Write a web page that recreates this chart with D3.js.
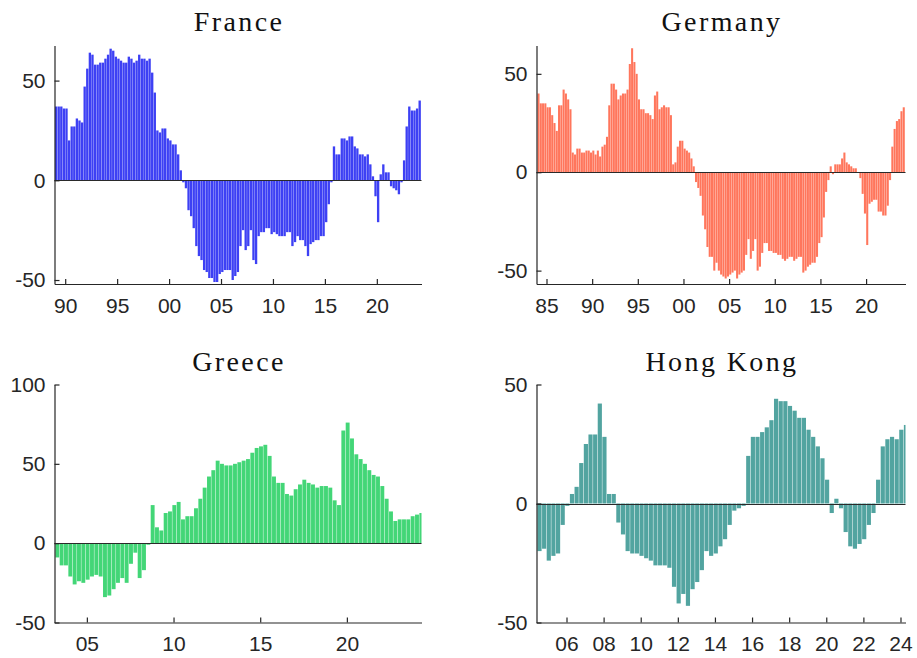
<!DOCTYPE html>
<html>
<head>
<meta charset="utf-8">
<script src="https://cdn.jsdelivr.net/npm/d3@7"></script>
<style>
  html, body { margin: 0; padding: 0; background: #ffffff; }
  svg { display: block; }
  .tick text { font-family: "Liberation Sans", Arial, Helvetica, sans-serif; }
</style>
</head>
<body>
<svg id="chart" width="917" height="658"></svg>
<script>
// ---- Data: quarterly readings (decimal-year start of the first quarter) ----
const franceStart = 1989.0;
const franceValues = [
  37, 37, 37, 36,   36, 20, 27, 27,   31, 30, 29, 47,   56, 64, 63, 58,
  58, 59, 59, 61,   63, 66, 65, 62,   61, 60, 59, 59,   62, 61, 59, 60,
  63, 61, 61, 60,   61, 54, 44, 25,   24, 26, 26, 21,   20, 18, 18, 13,
  5, -1, -4, -15,   -18, -24, -33, -38, -40, -45, -46, -49, -49, -51, -51, -47,
  -46, -45, -45, -45, -50, -48, -46, -33, -25, -35, -33, -25, -40, -42, -28, -26,
  -26, -24, -24, -27, -26, -27, -28, -28, -28, -26, -26, -33, -31, -28, -30, -30,
  -33, -38, -32, -31, -30, -30, -28, -28, -21, -12, -1, 17,  13, 13, 21, 21,
  20, 22, 22, 17,   16, 13, 13, 12,   13, 8, 2, -8,    -21, 3, 8, 4,
  4, -3, -4, -5,    -7, -1, 10, 27,   37, 35, 35, 36,   40
];

const germanyStart = 1984.0;
const germanyValues = [
  40, 35, 35, 35,   33, 33, 29, 25,   21, 34, 34, 42,   40, 37, 32, 10,
  9, 12, 12, 10,    10, 11, 11, 10,   11, 9, 11, 8,     13, 14, 18, 34,
  45, 45, 42, 37,   39, 40, 40, 42,   55, 63, 56, 50,   37, 32, 32, 30,
  30, 29, 27, 39,   41, 32, 33, 34,   33, 33, 29, 4,    5, 13, 16, 16,
  12, 11, 10, 7,    3, -5, -8, -12,   -22, -29, -38, -43, -43, -50, -46, -50,
  -52, -53, -54, -53, -52, -51, -50, -54, -52, -51, -50, -42, -34, -44, -40, -34,
  -50, -48, -41, -36, -36, -40, -40, -41, -41, -42, -42, -44, -45, -44, -43, -43,
  -45, -44, -43, -43, -51, -50, -48, -47, -46, -46, -43, -36, -33, -23, -10, -4,
  3, -1, 4, 4,      4, 7, 10, 5,      4, 3, 2, 2,       0, -3, -11, -21,
  -37, -16, -15, -14, -14, -20, -20, -22, -22, -17, -4, 13, 22, 26, 27, 31,
  33
];

const greeceStart = 2003.17;
const greeceValues = [
  -9, -14, -14, -21, -26, -24, -25, -23, -21, -20, -21, -34, -33, -29, -25, -22,
  -25, -13, -6, -22, -17, -1, 24, 10, 8, 19, 20, 24, 26, 15, 17, 17,
  22, 28, 35, 42, 46, 52, 50, 49, 49, 50, 51, 52, 53, 57, 60, 61,
  62, 55, 42, 38, 38, 31, 30, 34, 37, 40, 38, 37, 35, 36, 36, 35,
  27, 24, 71, 76, 66, 56, 53, 50, 46, 43, 42, 36, 28, 20, 14, 15,
  15, 15, 17, 18, 19
];

const hongKongStart = 2004.42;
const hongKongValues = [
  -20, -19, -24, -22, -21, -9, -1, 4, 7, 17, 25, 29, 29, 42, 28, 4,
  4, -8, -13, -20, -21, -21, -22, -23, -24, -26, -26, -26, -27, -35, -42, -38,
  -43, -36, -33, -28, -20, -22, -21, -18, -15, -9, -3, -2, -1, 20, 28, 28,
  30, 32, 35, 44, 43, 43, 41, 39, 36, 36, 31, 28, 24, 19, 10, -4,
  2, -2, -12, -18, -19, -17, -15, -9, -4, 10, 24, 27, 28, 27, 31, 33
];

// ---- Axis ticks ----
const franceYears = [1990, 1995, 2000, 2005, 2010, 2015, 2020];
const germanyYears = [1985, 1990, 1995, 2000, 2005, 2010, 2015, 2020];
const greeceYears = [2005, 2010, 2015, 2020];
const hongKongYears = [2006, 2008, 2010, 2012, 2014, 2016, 2018, 2020, 2022, 2024];
const levels50 = [-50, 0, 50];
const levels100 = [-50, 0, 50, 100];

// ---- Panel layout ----
const panels = [
  { title: "France", values: franceValues, start: franceStart, step: 0.25,
    xDomain: [1988.97, 2024.3], yDomain: [-52, 67.6],
    years: franceYears, levels: levels50, color: "#3d40f4",
    left: 54.5, right: 421.5, top: 45.5, bottom: 284, titleY: 31 },
  { title: "Germany", values: germanyValues, start: germanyStart, step: 0.25,
    xDomain: [1983.905, 2024.316], yDomain: [-56.8, 64.4],
    years: germanyYears, levels: levels50, color: "#ff765c",
    left: 536.5, right: 905.5, top: 45.5, bottom: 284, titleY: 31 },
  { title: "Greece", values: greeceValues, start: greeceStart, step: 0.25,
    xDomain: [2003.133, 2024.305], yDomain: [-50, 100],
    years: greeceYears, levels: levels100, color: "#43d677",
    left: 54.5, right: 421.5, top: 384.5, bottom: 622.5, titleY: 370.5 },
  { title: "Hong Kong", values: hongKongValues, start: hongKongStart, step: 0.25,
    xDomain: [2004.383, 2024.27], yDomain: [-50, 50],
    years: hongKongYears, levels: levels50, color: "#52a4a0",
    left: 536.5, right: 905.5, top: 384.5, bottom: 622.5, titleY: 370.5 }
];

const svg = d3.select("#chart");
const axisColor = "#262626";
const yearLabel = d => d3.format("02d")(d % 100);
const levelLabel = d => String(d);   // plain hyphen for negatives

panels.forEach((p, i) => {
  const x = d3.scaleLinear().domain(p.xDomain).range([p.left, p.right]);
  const y = d3.scaleLinear().domain(p.yDomain).range([p.bottom, p.top]);
  const g = svg.append("g").attr("class", "panel");

  const clipId = "clip" + i;
  svg.append("clipPath").attr("id", clipId)
    .append("rect")
    .attr("x", p.left).attr("y", p.top)
    .attr("width", p.right - p.left).attr("height", p.bottom - p.top);

  // bars
  const barFrac = 0.9;
  g.append("g").attr("clip-path", `url(#${clipId})`)
    .selectAll("rect")
    .data(p.values)
    .join("rect")
    .attr("x", (d, k) => x(p.start + k * p.step + p.step * (1 - barFrac) / 2))
    .attr("width", (d, k) => x(p.start + p.step * barFrac) - x(p.start))
    .attr("y", d => y(Math.max(0, d)))
    .attr("height", d => Math.abs(y(d) - y(0)))
    .attr("fill", p.color);

  // baseline at zero
  g.append("line")
    .attr("x1", p.left).attr("x2", p.right)
    .attr("y1", Math.round(y(0)) + 0.5).attr("y2", Math.round(y(0)) + 0.5)
    .attr("stroke", "#2a2a2a").attr("stroke-width", 1.1);

  // y axis (inward ticks)
  const ya = g.append("g")
    .attr("transform", `translate(${p.left},0)`)
    .call(d3.axisLeft(y).tickValues(p.levels).tickFormat(levelLabel)
      .tickSizeInner(-5).tickSizeOuter(0).tickPadding(9));
  ya.select(".domain").attr("stroke", axisColor).attr("stroke-width", 1.2);
  ya.selectAll(".tick line").attr("stroke", axisColor).attr("stroke-width", 1.2);
  ya.selectAll(".tick text").attr("fill", axisColor).attr("font-size", 21);

  // x axis (inward ticks)
  const xa = g.append("g")
    .attr("transform", `translate(0,${p.bottom})`)
    .call(d3.axisBottom(x).tickValues(p.years).tickFormat(yearLabel)
      .tickSizeInner(-5).tickSizeOuter(0).tickPadding(14));
  xa.select(".domain").attr("stroke", axisColor).attr("stroke-width", 1.2);
  xa.selectAll(".tick line").attr("stroke", axisColor).attr("stroke-width", 1.2);
  xa.selectAll(".tick text").attr("fill", axisColor).attr("font-size", 21);

  // title
  svg.append("text")
    .attr("x", (p.left + p.right) / 2 + 1)
    .attr("y", p.titleY)
    .attr("text-anchor", "middle")
    .attr("font-family", "'Liberation Serif', 'Times New Roman', serif")
    .attr("font-size", 28)
    .attr("letter-spacing", 2.4)
    .attr("fill", "#111")
    .text(p.title);
});
</script>
</body>
</html>
